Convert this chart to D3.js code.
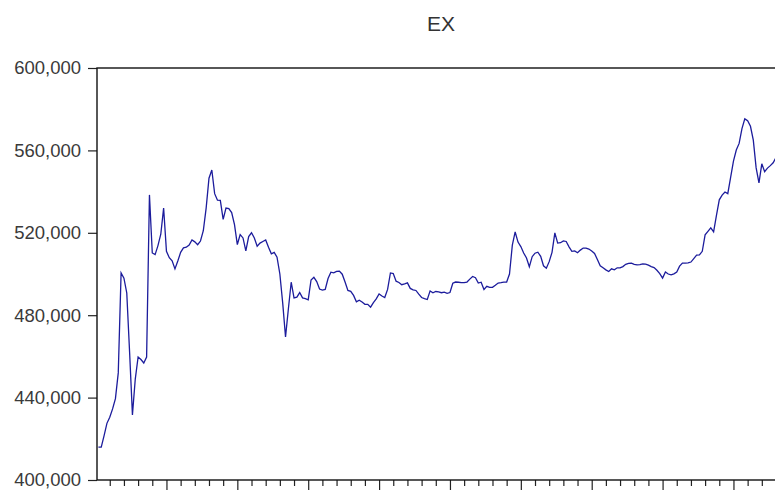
<!DOCTYPE html>
<html>
<head>
<meta charset="utf-8">
<script src="https://cdn.jsdelivr.net/npm/d3@7"></script>
<style>
  html, body { margin: 0; padding: 0; background: #fff; }
  svg { display: block; font-family: Arial, "Liberation Sans", sans-serif; }
</style>
</head>
<body>
<div id="chart"></div>
<script>
const exValues = [
  416000, 416000, 421500, 427500, 430500, 434500, 439500, 452000, 500500, 498000,
  490800, 462000, 431600, 449000, 459700, 458500, 456800, 459700, 538400, 510200,
  509400, 513800, 519300, 532000, 511000, 507900, 506400, 502500, 506300, 510500,
  512700, 513000, 514100, 516500, 515600, 514200, 516000, 521000, 532000, 546500,
  550500, 539000, 535800, 535700, 526500, 532000, 531700, 529800, 524000, 514300,
  519100, 517500, 511200, 518200, 520000, 517500, 513500, 515000, 515800, 516500,
  513000, 509800, 510500, 508200, 500000, 486000, 469400, 483000, 496000, 488400,
  488800, 491000, 488400, 488000, 487500, 497100, 498400, 496300, 492700, 492200,
  492500, 497800, 500900, 500600, 501300, 501400, 499900, 496100, 492000, 491600,
  489600, 486500, 487300, 486400, 485300, 485300, 483900, 486100, 487900, 490300,
  489300, 488600, 492500, 500500, 500200, 496500, 495900, 494800, 495200, 495700,
  493000, 492300, 492000, 490200, 488600, 488000, 487600, 491800, 490900, 491500,
  491300, 490900, 491200, 490600, 491000, 495500, 496100, 496000, 495800, 495800,
  496100, 497500, 498800, 498200, 495600, 496000, 492500, 494000, 493500, 493500,
  494500, 495600, 495800, 496100, 496100, 500000, 514000, 520400, 515500, 513300,
  510200, 507800, 503500, 508400, 510100, 510600, 508600, 504000, 502800, 506000,
  510500, 520000, 515000, 515200, 516100, 515800, 513200, 511000, 511200, 510300,
  511600, 512600, 512600, 512100, 511200, 510000, 507000, 504000, 503000, 502000,
  501200, 502500, 502000, 503000, 503000, 503600, 504700, 505200, 505300, 504700,
  504400, 504600, 504900, 504800, 504300, 503600, 503100, 501800, 500200, 498000,
  501000, 500000, 499600, 500100, 501000, 503800, 505300, 505300, 505400, 505800,
  507500, 509200, 509300, 511000, 519000, 520700, 522400, 520500, 528500, 536000,
  538300, 539800, 539000, 546900, 554800, 560200, 563400, 570600, 575300, 574400,
  571700, 565000, 551500, 544200, 553500, 549700, 551400, 552600, 554000, 556500
];

const yTicks = [400000, 440000, 480000, 520000, 560000, 600000];
const nObs = 240;
const minorEvery = 5;
const majorEvery = 25;

const W = 775, H = 490;
const plotLeft = 97, plotTop = 68, plotBottom = 480;
const obsWidth = 2.835;

const svg = d3.select("#chart").append("svg")
  .attr("width", W)
  .attr("height", H);

const x = d3.scaleLinear().domain([0, nObs]).range([plotLeft, plotLeft + nObs * obsWidth]);
const y = d3.scaleLinear().domain([400000, 600000]).range([plotBottom, plotTop]);

// title
svg.append("text")
  .attr("x", 441).attr("y", 31)
  .attr("text-anchor", "middle")
  .attr("font-size", 21)
  .attr("fill", "#333")
  .text("EX");

// y axis
const yAxis = svg.append("g")
  .attr("transform", `translate(${plotLeft},0)`)
  .call(d3.axisLeft(y).tickValues(yTicks).tickFormat(d3.format(",")).tickSize(9).tickPadding(7));
yAxis.select(".domain").remove();
yAxis.selectAll(".tick line").attr("stroke", "#222").attr("stroke-width", 1.2);
yAxis.selectAll(".tick text")
  .attr("font-size", 18.5)
  .attr("font-family", "Arial, 'Liberation Sans', sans-serif")
  .attr("fill", "#3a3a3a");

// x axis ticks (no labels visible)
const xTickVals = d3.range(minorEvery - 0.5, nObs, minorEvery);
const xAxis = svg.append("g")
  .attr("transform", `translate(0,${plotBottom})`)
  .call(d3.axisBottom(x).tickValues(xTickVals).tickFormat("").tickSize(6));
xAxis.select(".domain").remove();
xAxis.selectAll(".tick line")
  .attr("stroke", "#222")
  .attr("stroke-width", 1.2)
  .attr("y2", d => ((d + 0.5) % majorEvery === 0 ? 11 : 6));

// frame
svg.append("rect")
  .attr("x", plotLeft).attr("y", plotTop)
  .attr("width", x(nObs) - plotLeft)
  .attr("height", plotBottom - plotTop)
  .attr("fill", "none")
  .attr("stroke", "#111")
  .attr("stroke-width", 1.4);

// series line
const line = d3.line()
  .x((d, i) => x(i + 0.5))
  .y(d => y(d));

svg.append("path")
  .datum(exValues)
  .attr("d", line)
  .attr("fill", "none")
  .attr("stroke", "#1c1c9c")
  .attr("stroke-width", 1.3)
  .attr("stroke-linejoin", "miter");
</script>
</body>
</html>
